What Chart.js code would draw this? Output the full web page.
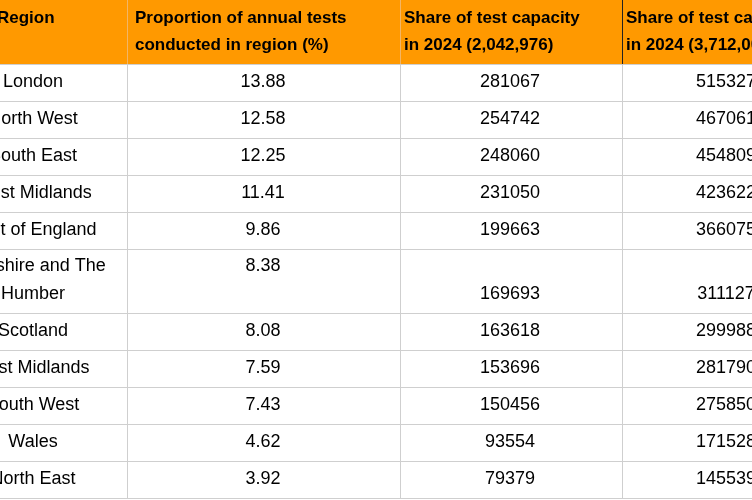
<!DOCTYPE html>
<html>
<head>
<meta charset="utf-8">
<script src="https://cdn.jsdelivr.net/npm/chart.js@4"></script>
<style>
  html, body { margin: 0; padding: 0; background: #fff; }
  #wrap { width: 752px; height: 500px; }
</style>
</head>
<body>
<div id="wrap"><canvas id="myChart" width="752" height="500"></canvas></div>
<script>
const headers = [
    ['Region'],
    ['Proportion of annual tests', 'conducted in region (%)'],
    ['Share of test capacity', 'in 2024 (2,042,976)'],
    ['Share of test capacity', 'in 2024 (3,712,000)']
];
const regions = [['London'], ['North West'], ['South East'], ['West Midlands'], ['East of England'],
    ['Yorkshire and The', 'Humber'], ['Scotland'], ['East Midlands'], ['South West'], ['Wales'], ['North East']];
const proportion = ['13.88', '12.58', '12.25', '11.41', '9.86', '8.38', '8.08', '7.59', '7.43', '4.62', '3.92'];
const capacityA = ['281067', '254742', '248060', '231050', '199663', '169693', '163618', '153696', '150456', '93554', '79379'];
const capacityB = ['515327', '467061', '454809', '423622', '366075', '311127', '299988', '281790', '275850', '171528', '145539'];

// layout of the table in scale units (pixels of the 752x500 frame)
const colEdges = [-60, 127, 400, 622, 830];
const rowEdges = [0, 64, 101, 138, 175, 212, 249, 313, 350, 387, 424, 461, 498];

const tablePlugin = {
    id: 'table',
    afterDraw(chart) {
        const ctx = chart.ctx;
        const xs = chart.scales.x, ys = chart.scales.y;
        const px = v => xs.getPixelForValue(v);
        const py = v => ys.getPixelForValue(v);
        ctx.save();

        // header
        ctx.fillStyle = '#ff9900';
        ctx.fillRect(px(colEdges[0]), py(rowEdges[0]), px(colEdges[4]) - px(colEdges[0]), py(rowEdges[1]) - py(rowEdges[0]));

        // grid
        ctx.strokeStyle = '#cfcfcf';
        ctx.lineWidth = 1;
        rowEdges.slice(1).forEach(r => {
            ctx.beginPath();
            ctx.moveTo(px(colEdges[0]), Math.round(py(r)) + 0.5);
            ctx.lineTo(px(colEdges[4]), Math.round(py(r)) + 0.5);
            ctx.stroke();
        });
        colEdges.slice(1, 4).forEach((c, i) => {
            ctx.beginPath();
            ctx.moveTo(Math.round(px(c)) + 0.5, py(rowEdges[1]));
            ctx.lineTo(Math.round(px(c)) + 0.5, py(rowEdges[rowEdges.length - 1]));
            ctx.stroke();
            ctx.beginPath();
            ctx.strokeStyle = i === 2 ? '#222' : '#f3b566';
            ctx.moveTo(Math.round(px(c)) + 0.5, py(rowEdges[0]));
            ctx.lineTo(Math.round(px(c)) + 0.5, py(rowEdges[1]));
            ctx.stroke();
            ctx.strokeStyle = '#cfcfcf';
        });

        // header text
        ctx.fillStyle = '#000';
        ctx.font = 'bold 17px "Liberation Sans", Arial, sans-serif';
        ctx.textAlign = 'left';
        ctx.textBaseline = 'middle';
        const headX = [-3, 135, 404, 626];
        headers.forEach((lines, i) => {
            const y0 = lines.length === 1 ? 18 : 18;
            lines.forEach((t, j) => ctx.fillText(t, px(headX[i]), py(y0 + j * 27)));
        });

        // body
        ctx.font = '18px "Liberation Sans", Arial, sans-serif';
        ctx.textAlign = 'center';
        regions.forEach((name, i) => {
            const top = rowEdges[i + 1], bot = rowEdges[i + 2];
            const mid = (top + bot) / 2;
            const two = name.length > 1;
            name.forEach((t, j) => ctx.fillText(t, px(33), py(two ? top + 17 + j * 28 : mid)));
            ctx.fillText(proportion[i], px(263), py(two ? top + 17 : mid));
            ctx.fillText(capacityA[i], px(510), py(two ? top + 45 : mid));
            ctx.fillText(capacityB[i], px(726), py(two ? top + 45 : mid));
        });
        ctx.restore();
    }
};

const chart = new Chart(document.getElementById('myChart').getContext('2d'), {
    type: 'scatter',
    data: { datasets: [{ data: [] }] },
    options: {
        responsive: false,
        animation: false,
        layout: { padding: 0 },
        plugins: { legend: { display: false }, tooltip: { enabled: false } },
        scales: {
            x: { type: 'linear', min: 0, max: 752, display: false },
            y: { type: 'linear', min: 0, max: 500, reverse: true, display: false }
        }
    },
    plugins: [tablePlugin]
});
</script>
</body>
</html>
